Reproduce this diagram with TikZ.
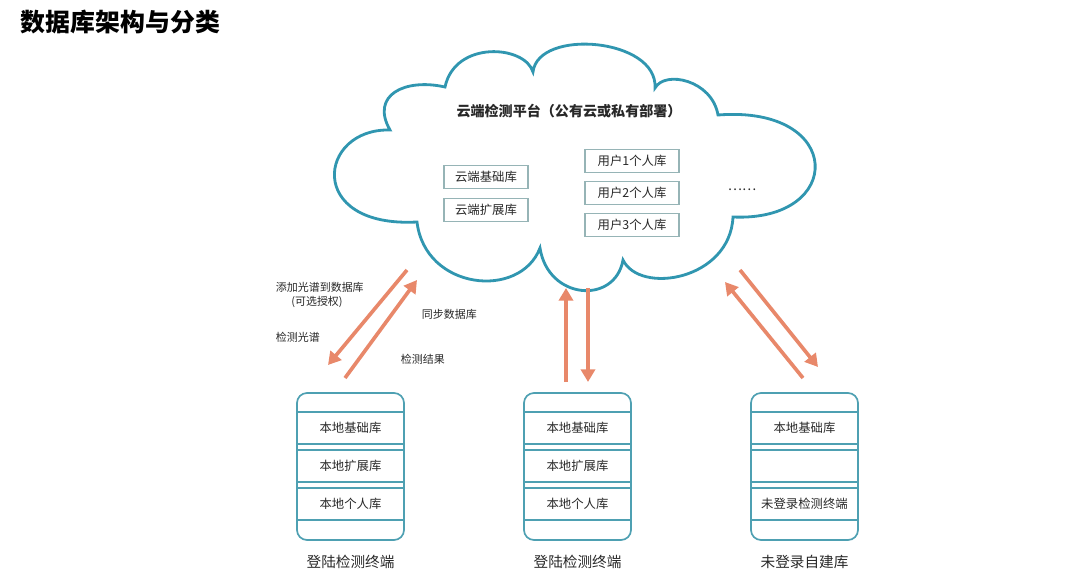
\documentclass[tikz,border=0pt]{standalone}
\usepackage{fontspec}
\setmainfont{Noto Sans CJK SC}
\usepackage{xcolor}
\usepackage{tikz}
\usetikzlibrary{arrows.meta,positioning}
\definecolor{cloudteal}{RGB}{48,150,176}
\definecolor{dbteal}{RGB}{78,160,178}
\definecolor{boxgray}{RGB}{150,180,182}
\definecolor{flowred}{RGB}{232,136,106}
\definecolor{darkgray}{RGB}{40,40,40}

\begin{document}
\begin{tikzpicture}[
    x=0.025cm, y=-0.025cm,
    cbox/.style={draw=boxgray, line width=0.8pt, minimum width=2.1cm, minimum height=0.575cm,
                 inner sep=0pt, font=\fontsize{8.8}{10}\selectfont, text=darkgray},
    ubox/.style={cbox, minimum width=2.35cm},
    dbrow/.style={draw=dbteal, line width=1pt, minimum width=2.675cm, minimum height=0.8cm,
                  inner sep=0pt, font=\fontsize{8.8}{10}\selectfont, text=darkgray},
    dbbody/.style={draw=dbteal, line width=1.2pt, rounded corners=0.25cm},
    flow/.style={draw=flowred, line width=2.6pt, -{Triangle[length=9pt,width=10pt]}},
    tiny/.style={font=\fontsize{7.8}{9}\selectfont, text=darkgray},
    lbl/.style={font=\fontsize{10.4}{12}\selectfont, text=darkgray}
  ]
  \useasboundingbox (0,0) rectangle (1080,579);

  % title
  \node[anchor=west, font=\fontsize{17.7}{20}\selectfont\bfseries] (title) at (16,22) {数据库架构与分类};

  % cloud
  \draw[cloudteal, line width=2pt, fill=white]
    (390,130) .. controls (318,128) and (305,228) .. (417,222)
    .. controls (425,290) and (520,300) .. (540,248)
    .. controls (548,300) and (615,305) .. (623,260)
    .. controls (640,295) and (730,280) .. (733,217)
    .. controls (845,222) and (845,105) .. (718,115)
    .. controls (712,80) and (665,70) .. (655,88)
    .. controls (658,38) and (538,28) .. (533,72)
    .. controls (525,45) and (455,40) .. (445,87)
    .. controls (405,78) and (370,95) .. cycle;
  \node[font=\fontsize{10}{12}\selectfont\bfseries, text=darkgray] (cloud) at (569,111) {云端检测平台（公有云或私有部署）};

  \node[cbox] (cbase) at (486,177) {云端基础库};
  \node[cbox] (cext) at (486,210) {云端扩展库};
  \node[ubox] (user1) at (632,161) {用户1个人库};
  \node[ubox] (user2) at (632,193) {用户2个人库};
  \node[ubox] (user3) at (632,225) {用户3个人库};
  \node[font=\fontsize{9.5}{10}\selectfont, text=darkgray] (more) at (742,190) {……};

  % terminals
  \draw[dbbody] (297,393) rectangle (404,540);
  \node[dbrow] (t1a) at (350.5,428) {本地基础库};
  \node[dbrow] (t1b) at (350.5,466) {本地扩展库};
  \node[dbrow] (t1c) at (350.5,504) {本地个人库};
  \node[lbl] (t1) at (350.5,562) {登陆检测终端};

  \draw[dbbody] (524,393) rectangle (631,540);
  \node[dbrow] (t2a) at (577.5,428) {本地基础库};
  \node[dbrow] (t2b) at (577.5,466) {本地扩展库};
  \node[dbrow] (t2c) at (577.5,504) {本地个人库};
  \node[lbl] (t2) at (577.5,562) {登陆检测终端};

  \draw[dbbody] (751,393) rectangle (858,540);
  \node[dbrow] (t3a) at (804.5,428) {本地基础库};
  \node[dbrow] (t3b) at (804.5,466) {};
  \node[dbrow] (t3c) at (804.5,504) {未登录检测终端};
  \node[lbl] (t3) at (804.5,562) {未登录自建库};

  % flows
  \coordinate (l1s) at (407,270); \coordinate (l1e) at (328,365);
  \coordinate (l2s) at (345,378); \coordinate (l2e) at (417,280);
  \coordinate (m1s) at (566,382); \coordinate (m1e) at (566,288);
  \coordinate (m2s) at (588,288); \coordinate (m2e) at (588,382);
  \coordinate (r1s) at (803,378); \coordinate (r1e) at (725,282);
  \coordinate (r2s) at (740,270); \coordinate (r2e) at (818,367);
  \draw[flow] (l1s) -- (l1e);
  \draw[flow] (l2s) -- (l2e);
  \draw[flow] (m1s) -- (m1e);
  \draw[flow] (m2s) -- (m2e);
  \draw[flow] (r1s) -- (r1e);
  \draw[flow] (r2s) -- (r2e);

  \node[tiny, anchor=west] (addspec) at (271,287) {添加光谱到数据库};
  \node[tiny] (auth) at (317,302) {(可选授权)};
  \node[tiny, anchor=west] (detspec) at (271,337) {检测光谱};
  \node[tiny, anchor=west] (syncdb) at (417,314) {同步数据库};
  \node[tiny, anchor=west] (result) at (396,359) {检测结果};
\end{tikzpicture}
\end{document}
